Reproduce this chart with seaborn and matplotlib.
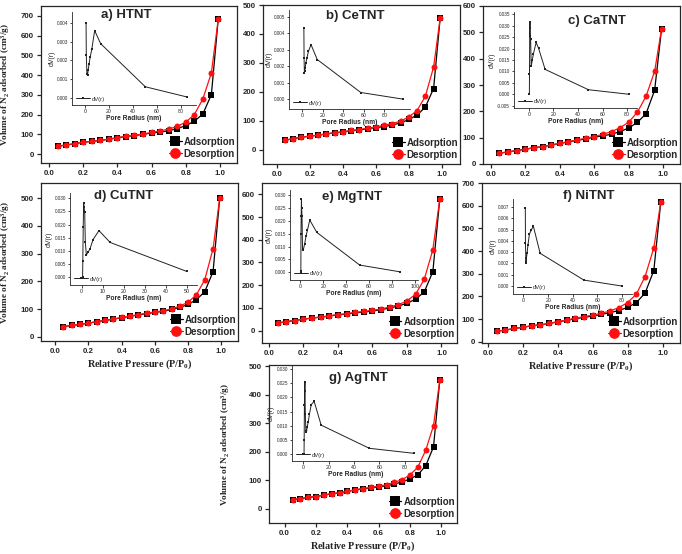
import numpy as np
import pandas as pd
import matplotlib
matplotlib.use("Agg")
import matplotlib.pyplot as plt
import seaborn as sns
from matplotlib.ticker import FormatStrFormatter

sns.set_style("ticks")
plt.rcParams['font.family'] = ['Liberation Sans', 'DejaVu Sans']
plt.rcParams['mathtext.fontset'] = 'custom'
plt.rcParams['mathtext.rm'] = 'Liberation Serif:bold'
plt.rcParams['mathtext.it'] = 'Liberation Serif:italic:bold'
plt.rcParams['mathtext.bf'] = 'Liberation Serif:bold'
plt.rcParams['mathtext.default'] = 'rm'

# ---------------- data ----------------
pressure = [0.05, 0.10, 0.15, 0.20, 0.25, 0.30, 0.35, 0.40, 0.45, 0.50,
            0.55, 0.60, 0.65, 0.70, 0.75, 0.80, 0.85, 0.90, 0.95, 0.99]

htnt_ads = [39, 47, 52, 61, 64, 69, 76, 83, 89, 94, 100, 107, 112, 118, 129, 144, 166, 203, 301, 682]
htnt_des = [39, 47, 52, 61, 64, 69, 76, 83, 90, 95, 102, 110, 117, 127, 140, 162, 200, 279, 411, 682]
cetnt_ads = [32, 38, 43, 46, 50, 54, 58, 61, 65, 68, 72, 76, 79, 85, 92, 104, 119, 147, 211, 455]
cetnt_des = [32, 38, 43, 46, 50, 54, 58, 61, 66, 69, 74, 78, 84, 90, 98, 113, 135, 184, 285, 455]
catnt_ads = [41, 46, 51, 56, 62, 66, 72, 78, 84, 90, 95, 102, 107, 113, 123, 137, 158, 191, 280, 513]
catnt_des = [41, 46, 51, 56, 62, 66, 72, 79, 85, 91, 98, 104, 113, 123, 138, 159, 197, 257, 352, 513]
cutnt_ads = [37, 41, 45, 49, 55, 59, 64, 69, 74, 79, 84, 88, 92, 99, 106, 117, 134, 163, 235, 500]
cutnt_des = [37, 41, 45, 49, 55, 59, 64, 70, 75, 80, 85, 90, 94, 101, 111, 125, 152, 206, 318, 500]
mgtnt_ads = [33, 39, 44, 50, 55, 59, 64, 69, 73, 78, 82, 86, 92, 99, 108, 120, 138, 170, 259, 578]
mgtnt_des = [33, 39, 44, 50, 55, 59, 65, 70, 74, 80, 84, 89, 95, 104, 114, 130, 160, 225, 356, 578]
nitnt_ads = [47, 52, 59, 64, 71, 75, 81, 88, 95, 102, 108, 114, 121, 129, 138, 152, 173, 215, 314, 617]
nitnt_des = [47, 52, 59, 64, 71, 75, 81, 89, 96, 104, 111, 118, 126, 136, 151, 173, 210, 288, 414, 617]
agtnt_ads = [32, 36, 40, 43, 48, 53, 56, 61, 66, 70, 74, 77, 81, 87, 94, 105, 119, 151, 217, 451]
agtnt_des = [32, 36, 40, 43, 48, 53, 56, 61, 67, 71, 75, 80, 84, 93, 102, 119, 146, 205, 292, 451]

# pore size distributions (inset)
htnt_r = [0.8, 1.0, 1.5, 2.0, 2.6, 3.3, 4.3, 5.6, 8.0, 13.0, 50.5, 85.5]
htnt_dv = [0.0040, 0.0023, 0.00125, 0.0012, 0.0015, 0.0018, 0.0022, 0.0026, 0.0036, 0.0029, 0.00058, 0.00003]
cetnt_r = [1.5, 1.7, 2.0, 2.3, 2.8, 3.5, 4.5, 6.0, 8.5, 14.5, 57.0, 98.0]
cetnt_dv = [0.0043, 0.0025, 0.0016, 0.0017, 0.0019, 0.0022, 0.0025, 0.0029, 0.0033, 0.0024, 0.0004, 0.0000]
catnt_r = [0.5, 0.6, 0.8, 1.0, 1.2, 1.5, 2.0, 2.8, 3.8, 6.0, 8.0, 13.3, 48.5, 81.5]
catnt_dv = [0.0, 0.009, 0.0288, 0.0317, 0.0257, 0.0242, 0.0123, 0.0148, 0.0177, 0.0227, 0.0201, 0.0109, 0.0020, 0.0]
cutnt_r = [0.5, 0.6, 0.8, 1.0, 1.2, 1.5, 1.8, 2.3, 3.0, 4.0, 5.5, 8.3, 13.6, 50.0]
cutnt_dv = [0.0, 0.006, 0.0192, 0.0281, 0.0266, 0.0247, 0.0132, 0.0084, 0.0094, 0.0107, 0.0143, 0.0177, 0.0132, 0.0022]
mgtnt_r = [0.5, 0.6, 0.8, 1.0, 1.2, 1.5, 2.0, 2.8, 3.8, 5.0, 6.3, 8.3, 14.5, 52.0, 87.0]
mgtnt_dv = [0.0005, 0.015, 0.022, 0.0285, 0.025, 0.022, 0.0085, 0.009, 0.011, 0.014, 0.0165, 0.0203, 0.0155, 0.0028, 0.0002]
nitnt_r = [1.5, 1.6, 2.0, 2.4, 2.9, 3.6, 4.8, 6.5, 8.0, 13.5, 49.0, 80.0]
nitnt_dv = [0.0069, 0.0038, 0.00205, 0.0025, 0.0029, 0.0036, 0.0046, 0.0050, 0.0053, 0.0029, 0.00053, 0.0]
agtnt_r = [0.5, 0.6, 0.8, 1.0, 1.2, 1.5, 2.0, 2.4, 3.0, 3.8, 4.8, 6.2, 8.5, 14.0, 52.0, 87.6]
agtnt_dv = [0.0, 0.005, 0.0175, 0.0224, 0.0254, 0.014, 0.0081, 0.0076, 0.0095, 0.0113, 0.0142, 0.0175, 0.0186, 0.0102, 0.0020, 0.0002]

titles = ["a) HTNT", "b) CeTNT", "c) CaTNT", "d) CuTNT", "e) MgTNT", "f) NiTNT", "g) AgTNT"]
ads_labels = ["Adsorption"] * 5 + ["Adsorprtion", "Adsorption"]

# ---------------- layout ----------------
W, H = 682, 554
fig = plt.figure(figsize=(W / 100, H / 100), dpi=100)


def rect(x0, x1, yt, yb):
    return [x0 / W, 1 - yb / H, (x1 - x0) / W, (yb - yt) / H]


panels = [
    dict(ads=htnt_ads, des=htnt_des, r=htnt_r, dv=htnt_dv,
         box=(41, 237, 6, 163), xlim=(-0.047, 1.1), ylim=(-45, 750), ymax=700,
         ibox=(72, 196, 12, 105), ixlim=(-11, 93), iylim=(-0.0004, 0.0046),
         ixt=[0, 20, 40, 60, 80], iyt=np.arange(0, 0.0041, 0.001), ifmt='%.3f',
         txy=(0.434, 0.94), ylab=True, xlab=False, ylx=-0.148),
    dict(ads=cetnt_ads, des=cetnt_des, r=cetnt_r, dv=cetnt_dv,
         box=(263, 460, 5, 164), xlim=(-0.083, 1.11), ylim=(-50, 500), ymax=500,
         ibox=(289, 410, 10, 109), ixlim=(-13, 105), iylim=(-0.0006, 0.0054),
         ixt=[0, 20, 40, 60, 80], iyt=np.arange(0, 0.0051, 0.001), ifmt='%.3f',
         txy=(0.47, 0.93), ylab=False, xlab=False),
    dict(ads=catnt_ads, des=catnt_des, r=catnt_r, dv=catnt_dv,
         box=(483, 680, 6, 164), xlim=(-0.045, 1.097), ylim=(0, 600), ymax=600,
         ibox=(514, 637, 12, 108), ixlim=(-12, 88), iylim=(-0.006, 0.036),
         ixt=[0, 20, 40, 60, 80], iyt=np.arange(-0.005, 0.0351, 0.005), ifmt='%.3f',
         txy=(0.577, 0.907), ylab=False, xlab=False),
    dict(ads=cutnt_ads, des=cutnt_des, r=cutnt_r, dv=cutnt_dv,
         box=(41, 238, 183, 341), xlim=(-0.085, 1.1), ylim=(-15, 555), ymax=500,
         ibox=(70, 197, 193, 285), ixlim=(-5.5, 55), iylim=(-0.003, 0.032),
         ixt=[0, 10, 20, 30, 40, 50], iyt=np.arange(0, 0.0301, 0.005), ifmt='%.3f',
         txy=(0.419, 0.917), ylab=True, xlab=True, ylx=-0.148),
    dict(ads=mgtnt_ads, des=mgtnt_des, r=mgtnt_r, dv=mgtnt_dv,
         box=(262, 457, 183, 343), xlim=(-0.04, 1.09), ylim=(-55, 650), ymax=600,
         ibox=(290, 418, 190, 280), ixlim=(-9, 103), iylim=(-0.003, 0.032),
         ixt=[0, 20, 40, 60, 80, 100], iyt=np.arange(0, 0.0301, 0.005), ifmt='%.3f',
         txy=(0.464, 0.914), ylab=False, xlab=False),
    dict(ads=nitnt_ads, des=nitnt_des, r=nitnt_r, dv=nitnt_dv,
         box=(482, 680, 183, 343), xlim=(-0.034, 1.10), ylim=(-5, 700), ymax=700,
         ibox=(513, 632, 199, 294), ixlim=(-8.5, 88), iylim=(-0.0007, 0.0077),
         ixt=[0, 20, 40, 60, 80], iyt=np.arange(0, 0.0071, 0.001), ifmt='%.3f',
         txy=(0.54, 0.92), ylab=False, xlab=True),
    dict(ads=agtnt_ads, des=agtnt_des, r=agtnt_r, dv=agtnt_dv,
         box=(269, 457, 365, 523), xlim=(-0.1, 1.1), ylim=(-50, 505), ymax=500,
         ibox=(292, 420, 365, 461), ixlim=(-9, 92), iylim=(-0.0025, 0.0315),
         ixt=[0, 20, 40, 60, 80], iyt=np.arange(0, 0.0301, 0.005), ifmt='%.3f',
         txy=(0.476, 0.916), ylab=True, xlab=True, ylx=-0.198),
]

for i, P in enumerate(panels):
    ax = fig.add_axes(rect(*P['box']))
    df = pd.DataFrame({'p': pressure, 'ads': P['ads'], 'des': P['des']})
    sns.lineplot(data=df, x='p', y='ads', ax=ax, color='black', marker='s',
                 markersize=3.8, markeredgewidth=0, linewidth=0.9,
                 label=ads_labels[i], zorder=3)
    sns.lineplot(data=df, x='p', y='des', ax=ax, color='#ff1010', marker='o',
                 markersize=4.3, markeredgewidth=0, linewidth=0.9,
                 label='Desorption', zorder=4)
    ax.set_xlim(*P['xlim'])
    ax.set_ylim(*P['ylim'])
    ax.set_xticks([0.0, 0.2, 0.4, 0.6, 0.8, 1.0])
    ax.set_yticks(list(range(0, P['ymax'] + 1, 100)))
    ax.xaxis.set_major_formatter(FormatStrFormatter('%.1f'))
    ax.tick_params(direction='out', length=3, width=0.9, labelsize=5.7, pad=2)
    for lab in ax.get_xticklabels() + ax.get_yticklabels():
        lab.set_fontweight('bold')
    for s in ax.spines.values():
        s.set_linewidth(0.9)
        s.set_visible(True)
    ax.set_xlabel('')
    ax.set_ylabel('')
    if P['ylab']:
        ax.set_ylabel(r'Volume of N$_2$ adsorbed (cm$^3$/g)', family='Liberation Serif',
                      fontweight='bold', fontsize=6.6)
        ax.yaxis.set_label_coords(P['ylx'], 0.5)
    if P['xlab']:
        ax.set_xlabel(r'Relative Pressure (P/P$_0$)', family='Liberation Serif',
                      fontweight='bold', fontsize=7.3, labelpad=2)
    ax.text(P['txy'][0], P['txy'][1], titles[i], transform=ax.transAxes,
            ha='center', va='center', fontsize=9.5, fontweight='bold')
    ax.legend(loc='lower right', bbox_to_anchor=(1.02, -0.01), frameon=False,
              prop={'weight': 'bold', 'size': 7}, markerscale=1.8,
              handlelength=1.3, handletextpad=0.2, labelspacing=0.2,
              borderaxespad=0.2)

    # inset
    ia = fig.add_axes(rect(*P['ibox']))
    idf = pd.DataFrame({'r': P['r'], 'dv': P['dv']})
    sns.lineplot(data=idf, x='r', y='dv', ax=ia, color='#222222', marker='s',
                 markersize=2.0, markeredgewidth=0, linewidth=0.7, sort=False,
                 label='dV(r)')
    ia.set_xlim(*P['ixlim'])
    ia.set_ylim(*P['iylim'])
    ia.set_xticks(P['ixt'])
    ia.set_yticks(P['iyt'])
    ia.yaxis.set_major_formatter(FormatStrFormatter(P['ifmt']))
    ia.tick_params(direction='out', length=1.8, width=0.6, pad=1)
    ia.tick_params(axis='y', labelsize=3.3)
    ia.tick_params(axis='x', labelsize=3.8)
    for s in ['top', 'right']:
        ia.spines[s].set_visible(False)
    for s in ['left', 'bottom']:
        ia.spines[s].set_linewidth(0.6)
    ia.patch.set_alpha(0)
    ia.set_xlabel('Pore Radius (nm)', fontsize=4.8, fontweight='bold', labelpad=1)
    ia.set_ylabel('dV(r)', fontsize=5, labelpad=1)
    ia.legend(loc='lower left', frameon=False, fontsize=4.2, handlelength=2.5,
              handletextpad=0.3, borderaxespad=0.2)

fig.savefig('out.png', dpi=100)
